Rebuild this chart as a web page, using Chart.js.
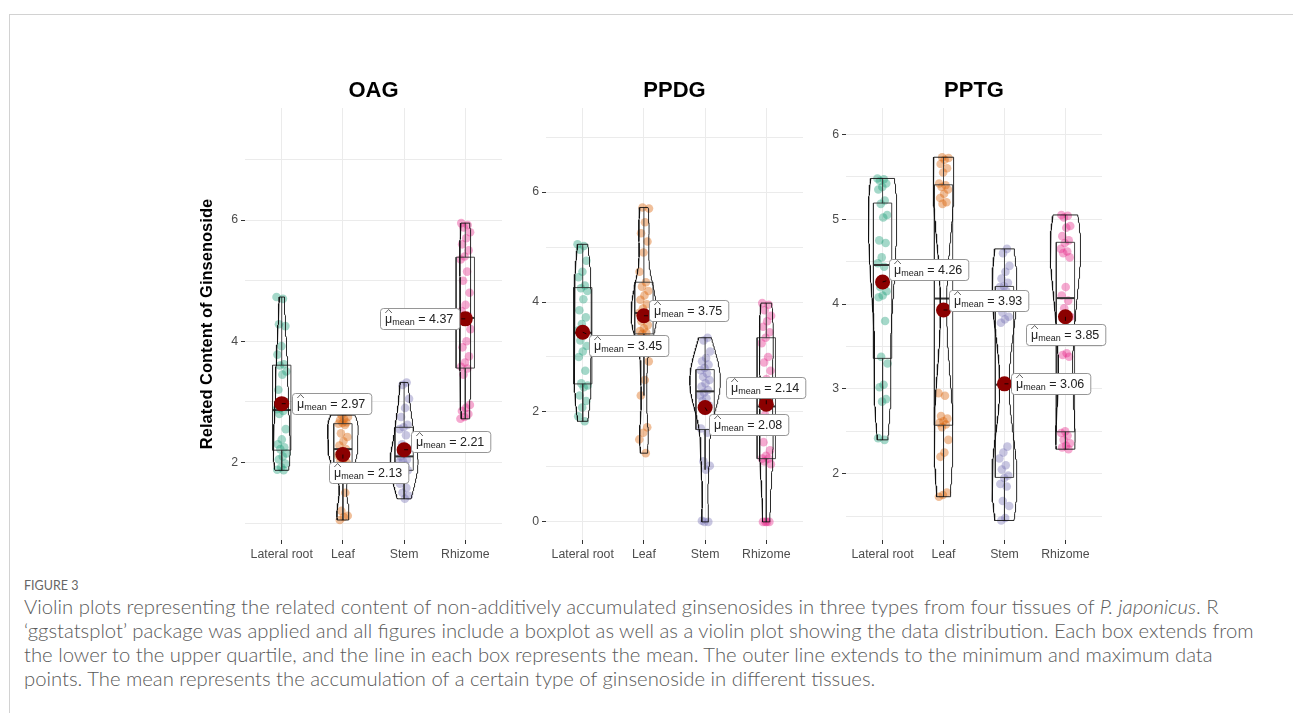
<!DOCTYPE html>
<html>
<head>
<meta charset="utf-8">
<script src="https://cdn.jsdelivr.net/npm/chart.js@4.4.1/dist/chart.umd.min.js"></script>
<style>
html,body{margin:0;padding:0;background:#fff;width:1293px;height:713px;overflow:hidden;position:relative;}
#frame{position:absolute;left:9px;top:14px;width:1290px;height:705px;border-left:1px solid #d2d2d2;border-top:1px solid #d2d2d2;}
canvas{position:absolute;}
#c1{left:185px;top:60px;}
#c2{left:515px;top:60px;}
#c3{left:815px;top:60px;}
.cap{position:absolute;left:24px;font-family:"Lato","Open Sans",sans-serif;font-weight:300;color:#5a5a5a;white-space:nowrap;line-height:24px;font-size:16px;}
#fig{font-size:12.5px;top:574px;font-weight:400;color:#666;}
</style>
</head>
<body>
<div id="frame"></div>
<canvas id="c1" width="325" height="510"></canvas>
<canvas id="c2" width="296" height="510"></canvas>
<canvas id="c3" width="295" height="510"></canvas>
<div class="cap" id="fig">FIGURE 3</div>
<div class="cap" id="l1" style="top:594px">Violin plots representing the related content of non-additively accumulated ginsenosides in three types from four tissues of <i>P. japonicus</i>. R</div>
<div class="cap" id="l2" style="top:618px">‘ggstatsplot’ package was applied and all figures include a boxplot as well as a violin plot showing the data distribution. Each box extends from</div>
<div class="cap" id="l3" style="top:642px">the lower to the upper quartile, and the line in each box represents the mean. The outer line extends to the minimum and maximum data</div>
<div class="cap" id="l4" style="top:666px">points. The mean represents the accumulation of a certain type of ginsenoside in different tissues.</div>
<script>
// ---------------- data ----------------
const categories = ["Lateral root", "Leaf", "Stem", "Rhizome"];
const panelTitles = ["OAG", "PPDG", "PPTG"];
const yAxisTitle = "Related Content of Ginsenoside";

const oagLateralRoot = [4.73,4.70,4.28,4.25,3.92,3.78,3.62,3.60,3.50,3.45,3.20,3.00,2.90,2.88,2.85,2.80,2.55,2.38,2.30,2.25,2.22,2.15,2.10,2.05,1.98,1.92,1.88,1.87];
const oagLeaf = [2.78,2.75,2.72,2.70,2.66,2.65,2.64,2.62,2.48,2.42,2.35,2.28,2.22,2.18,2.12,2.08,2.03,2.00,2.00,1.90,1.50,1.20,1.12,1.10,1.05];
const oagStem = [3.32,3.28,3.05,2.90,2.75,2.62,2.58,2.55,2.45,2.30,2.22,2.15,2.10,2.05,2.02,2.00,1.95,1.90,1.87,1.78,1.65,1.58,1.50,1.45,1.40];
const oagRhizome = [5.95,5.92,5.88,5.80,5.70,5.60,5.50,5.40,5.35,5.15,5.00,4.80,4.60,4.50,4.42,4.35,4.20,4.00,3.90,3.75,3.65,3.58,3.55,3.45,2.95,2.90,2.85,2.80,2.75,2.72];
const oagMeans = [2.97, 2.13, 2.21, 4.37];

const ppdgLateralRoot = [5.05,5.02,4.95,4.75,4.55,4.45,4.30,4.25,4.20,4.05,3.85,3.72,3.60,3.48,3.40,3.30,3.20,3.10,3.00,2.75,2.52,2.48,2.45,2.30,2.20,2.08,1.92,1.83];
const ppdgLeaf = [5.72,5.70,5.45,5.25,5.10,4.90,4.55,4.36,4.28,4.20,4.12,4.04,3.96,3.88,3.80,3.72,3.65,3.58,3.52,3.47,3.44,3.42,2.92,2.58,2.30,1.72,1.62,1.50,1.25];
const ppdgStem = [3.35,3.30,3.10,2.98,2.92,2.86,2.80,2.76,2.70,2.64,2.58,2.52,2.46,2.40,2.35,2.30,2.25,2.20,2.12,2.02,1.70,1.62,1.10,1.02,0.95,0.02,0.00,0.00];
const ppdgRhizome = [3.98,3.95,3.85,3.75,3.65,3.55,3.45,3.35,3.25,3.00,2.90,2.75,2.60,2.30,2.10,1.95,1.80,1.70,1.45,1.30,1.20,1.15,1.15,1.10,1.05,0,0,0,0];
const ppdgMeans = [3.45, 3.75, 2.08, 2.14];

const pptgLateralRoot = [5.48,5.47,5.45,5.42,5.38,5.35,5.22,5.18,5.05,5.02,4.75,4.72,4.55,4.48,4.44,4.20,4.15,4.10,4.08,3.80,3.38,3.30,3.05,3.02,2.88,2.85,2.42,2.40];
const pptgLeaf = [5.73,5.72,5.70,5.65,5.60,5.55,5.42,5.40,5.38,5.35,5.30,5.25,5.20,5.18,2.95,2.92,2.68,2.65,2.62,2.60,2.58,2.55,2.40,2.25,2.20,1.78,1.75,1.73];
const pptgStem = [4.65,4.60,4.45,4.38,4.30,4.25,4.21,4.20,4.15,3.90,3.85,3.82,3.78,2.32,2.25,2.18,2.10,2.05,1.98,1.95,1.88,1.85,1.68,1.62,1.48,1.45];
const pptgRhizome = [5.05,5.04,5.02,4.92,4.90,4.80,4.75,4.72,4.65,4.62,4.60,4.55,4.20,4.10,4.04,3.95,3.85,3.42,3.40,3.38,2.50,2.48,2.45,2.40,2.36,2.33,2.31,2.29];
const pptgMeans = [4.26, 3.93, 3.06, 3.85];

const oagGridTicks = [1,2,3,4,5,6,7];
const oagLabelTicks = [2,4,6];
const ppdgGridTicks = [0,1,2,3,4,5,6,7];
const ppdgLabelTicks = [0,2,4,6];
const pptgGridTicks = [1.5,2,2.5,3,3.5,4,4.5,5,5.5,6];
const pptgLabelTicks = [2,3,4,5,6];

// ---------------- style / layout ----------------
const groupColors = ["27,158,119", "217,95,2", "117,112,179", "231,41,138"];
const FONT = '"Liberation Sans", Arial, sans-serif';

// ---------------- stats helpers ----------------
function quantile(sorted, p) {
  const h = (sorted.length - 1) * p, lo = Math.floor(h);
  const hi = Math.min(lo + 1, sorted.length - 1);
  return sorted[lo] + (h - lo) * (sorted[hi] - sorted[lo]);
}
function bwNrd0(v) {
  const n = v.length, mean = v.reduce((a, b) => a + b, 0) / n;
  const sd = Math.sqrt(v.reduce((a, b) => a + (b - mean) ** 2, 0) / (n - 1));
  const s = [...v].sort((a, b) => a - b);
  const iqr = quantile(s, 0.75) - quantile(s, 0.25);
  let lo = Math.min(sd, iqr / 1.34);
  if (!(lo > 0)) lo = sd || 1;
  return 0.9 * lo * Math.pow(n, -0.2);
}
function density(v) {
  const bw = bwNrd0(v), mn = Math.min(...v), mx = Math.max(...v);
  const N = 160, ys = [], ds = [];
  for (let k = 0; k < N; k++) {
    const y = mn + (mx - mn) * k / (N - 1);
    let d = 0;
    for (const x of v) d += Math.exp(-0.5 * ((y - x) / bw) ** 2);
    ys.push(y); ds.push(d / (v.length * bw * Math.sqrt(2 * Math.PI)));
  }
  return {ys, ds};
}

function buildDatasets(groups) {
  const dens = groups.map(density);
  const maxD = Math.max(...dens.map(d => Math.max(...d.ds)));
  const sets = [];
  groups.forEach((vals, i) => {
    const cx = i + 1;
    const col = groupColors[i];
    // jittered raw points
    sets.push({
      type: 'scatter', order: 60,
      data: vals.map((v, k) => {
        const j = ((k * 0.6180339887 + i * 0.37) % 1) * 2 - 1;
        return {x: cx + 0.085 * j, y: v};
      }),
      backgroundColor: `rgba(${col},0.4)`, borderWidth: 0, pointRadius: 4.3
    });
    // box
    const s = [...vals].sort((a, b) => a - b);
    const q1 = quantile(s, 0.25), med = quantile(s, 0.5), q3 = quantile(s, 0.75);
    const iqr = q3 - q1;
    const upper = Math.max(...s.filter(v => v <= q3 + 1.5 * iqr));
    const lower = Math.min(...s.filter(v => v >= q1 - 1.5 * iqr));
    const bw = 0.15;
    const lineSet = (pts, w, c) => ({type: 'scatter', order: 40, showLine: true, data: pts,
      borderColor: c, borderWidth: w, pointRadius: 0, fill: false, tension: 0});
    sets.push(lineSet([{x: cx - bw, y: q1}, {x: cx + bw, y: q1}, {x: cx + bw, y: q3}, {x: cx - bw, y: q3}, {x: cx - bw, y: q1}], 0.9, '#333333'));
    sets.push(lineSet([{x: cx - bw, y: med}, {x: cx + bw, y: med}], 2, '#333333'));
    sets.push(lineSet([{x: cx, y: q3}, {x: cx, y: upper}], 0.9, '#333333'));
    sets.push(lineSet([{x: cx, y: q1}, {x: cx, y: lower}], 0.9, '#333333'));
    // violin
    const d = dens[i], poly = [];
    d.ys.forEach((y, k) => poly.push({x: cx + 0.25 * d.ds[k] / maxD, y}));
    for (let k = d.ys.length - 1; k >= 0; k--) poly.push({x: cx - 0.25 * d.ds[k] / maxD, y: d.ys[k]});
    poly.push(poly[0]);
    const vs = lineSet(poly, 0.9, '#111111'); vs.order = 30;
    sets.push(vs);
  });
  return sets;
}

// mean labels (ggrepel-like boxes)
const meanLabelPlugin = {
  id: 'meanLabels',
  afterDatasetsDraw(chart, args, opts) {
    const {ctx} = chart, xs = chart.scales.x, ys = chart.scales.y;
    opts.means.forEach((m, i) => {
      const px = xs.getPixelForValue(i + 1), py = ys.getPixelForValue(m);
      const [dx, dy, anchor] = opts.offsets[i];
      const valText = ' = ' + m.toFixed(2);
      ctx.save();
      ctx.font = '12.5px ' + FONT; const wMu = ctx.measureText('μ').width;
      ctx.font = '9px ' + FONT; const wSub = ctx.measureText('mean').width;
      ctx.font = '12.5px ' + FONT; const wVal = ctx.measureText(valText).width;
      const padX = 5, h = 21, w = padX * 2 + wMu + wSub + wVal + 1;
      const left = Math.round(anchor === 'r' ? px + dx - w : px + dx);
      const top = Math.round(py + dy - h / 2);
      // connector
      const tx = Math.max(left, Math.min(px, left + w)), ty = Math.max(top, Math.min(py, top + h));
      const dist = Math.hypot(tx - px, ty - py);
      if (dist > 0.5) {
        const L = Math.min(dist, 4);
        ctx.strokeStyle = '#000'; ctx.lineWidth = 0.8;
        ctx.beginPath(); ctx.moveTo(px, py); ctx.lineTo(px + (tx - px) / dist * L, py + (ty - py) / dist * L); ctx.stroke();
      }
      // box
      const r = 3, x0 = left + 0.5, y0 = top + 0.5;
      ctx.beginPath();
      ctx.moveTo(x0 + r, y0); ctx.lineTo(x0 + w - r, y0); ctx.quadraticCurveTo(x0 + w, y0, x0 + w, y0 + r);
      ctx.lineTo(x0 + w, y0 + h - r); ctx.quadraticCurveTo(x0 + w, y0 + h, x0 + w - r, y0 + h);
      ctx.lineTo(x0 + r, y0 + h); ctx.quadraticCurveTo(x0, y0 + h, x0, y0 + h - r);
      ctx.lineTo(x0, y0 + r); ctx.quadraticCurveTo(x0, y0, x0 + r, y0); ctx.closePath();
      ctx.fillStyle = '#ffffff'; ctx.fill();
      ctx.strokeStyle = '#8a8a8a'; ctx.lineWidth = 0.9; ctx.stroke();
      // text
      const base = top + 14.5;
      let tx0 = left + padX;
      ctx.fillStyle = '#222'; ctx.textBaseline = 'alphabetic'; ctx.textAlign = 'left';
      ctx.font = '12.5px ' + FONT; ctx.fillText('μ', tx0, base);
      // hat over mu
      ctx.strokeStyle = '#222'; ctx.lineWidth = 0.7;
      ctx.beginPath(); ctx.moveTo(tx0 + 0.3, base - 9.5); ctx.lineTo(tx0 + wMu / 2, base - 13); ctx.lineTo(tx0 + wMu - 0.3, base - 9.5); ctx.stroke();
      tx0 += wMu;
      ctx.font = '9px ' + FONT; ctx.fillText('mean', tx0, base + 2.5);
      tx0 += wSub;
      ctx.font = '12.5px ' + FONT; ctx.fillText(valText, tx0, base);
      ctx.restore();
    });
  }
};

function makeChart(id, title, groups, means, offsets, yMin, yMax, gridTicks, labelTicks, yWidth, showYTitle) {
  const meanSet = {type: 'scatter', order: 10, data: means.map((m, i) => ({x: i + 1, y: m})),
    backgroundColor: '#8B0000', borderWidth: 0, pointRadius: 7.5};
  return new Chart(document.getElementById(id), {
    type: 'scatter',
    data: {datasets: [...buildDatasets(groups), meanSet]},
    plugins: [meanLabelPlugin],
    options: {
      responsive: false, animation: false, events: [],
      layout: {padding: {left: 0, right: 8, top: 0, bottom: 0}},
      plugins: {legend: {display: false}, tooltip: {enabled: false}, title: {display: false},
        meanLabels: {means, offsets}},
      scales: {
        xTitle: {
          type: 'linear', position: 'top', min: 0.4, max: 4.6, display: true,
          ticks: {display: false}, grid: {display: false, drawTicks: false}, border: {display: false},
          title: {display: true, text: title, color: '#000', font: {family: FONT, size: 22, weight: 'bold'}, padding: {top: 18, bottom: 0}},
          afterFit: s => { s.height = 48; }
        },
        x: {
          type: 'linear', position: 'bottom', min: 0.4, max: 4.6,
          afterBuildTicks: s => { s.ticks = categories.map((c, i) => ({value: i + 1})); },
          ticks: {callback: v => categories[Math.round(v) - 1], color: '#4d4d4d', font: {family: FONT, size: 12.3}, padding: 3, autoSkip: false, maxRotation: 0},
          grid: {color: '#ebebeb', lineWidth: 1, tickLength: 4, tickColor: '#333333'},
          border: {display: false},
          afterFit: s => { s.height = 30; }
        },
        y: {
          type: 'linear', min: yMin, max: yMax,
          afterBuildTicks: s => { s.ticks = gridTicks.map(v => ({value: v})); },
          ticks: {callback: v => labelTicks.includes(v) ? String(v) : '', color: '#4d4d4d', font: {family: FONT, size: 12.3}, padding: 3, autoSkip: false},
          grid: {color: '#ebebeb', lineWidth: 1, tickLength: 4,
            tickColor: c => labelTicks.includes(c.tick && c.tick.value) ? '#333333' : 'rgba(0,0,0,0)'},
          border: {display: false},
          title: {display: showYTitle, text: yAxisTitle, color: '#000', font: {family: FONT, size: 16.5, weight: 'bold'}, padding: {top: 13, bottom: 0}},
          afterFit: s => { s.width = yWidth; }
        }
      }
    }
  });
}

makeChart('c1', panelTitles[0], [oagLateralRoot, oagLeaf, oagStem, oagRhizome], oagMeans,
  [[10, 0, 'l'], [-14, 18, 'l'], [7, -8, 'l'], [-6, 0, 'r']], 0.72, 7.85, oagGridTicks, oagLabelTicks, 60, true);
makeChart('c2', panelTitles[1], [ppdgLateralRoot, ppdgLeaf, ppdgStem, ppdgRhizome], ppdgMeans,
  [[6, 13, 'l'], [5, -5, 'l'], [4, 17, 'l'], [-40, -17, 'l']], -0.33, 7.53, ppdgGridTicks, ppdgLabelTicks, 31, false);
makeChart('c3', panelTitles[2], [pptgLateralRoot, pptgLeaf, pptgStem, pptgRhizome], pptgMeans,
  [[6, -12, 'l'], [5, -9, 'l'], [7, 0, 'l'], [-39, 18, 'l']], 1.22, 6.31, pptgGridTicks, pptgLabelTicks, 31, false);

// caption fitting to the reference line widths
const targets = {l1: 1189, l2: 1234, l3: 1193};
let ratio = 0, cnt = 0;
for (const id in targets) { const el = document.getElementById(id); ratio += targets[id] / el.getBoundingClientRect().width; cnt++; }
ratio /= cnt;
document.querySelectorAll('#l1,#l2,#l3,#l4').forEach(el => { el.style.fontSize = (16 * ratio).toFixed(2) + 'px'; });
</script>
</body>
</html>
